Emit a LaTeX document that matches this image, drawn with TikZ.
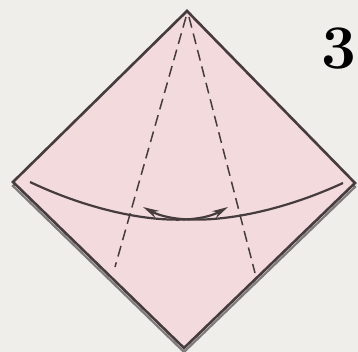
\documentclass[tikz,border=0pt]{standalone}
\usepackage{tikz}
\usetikzlibrary{arrows.meta}

\definecolor{paper}{RGB}{239,238,234}
\definecolor{sheet}{RGB}{243,218,221}
\definecolor{edge}{RGB}{70,60,62}
\definecolor{under}{RGB}{128,122,122}

\tikzset{
  fold/.style={draw=edge, line width=1.5pt, dash pattern=on 11pt off 6pt},
  swing/.style={draw=edge, line width=2.2pt, -{Stealth[length=16pt, width=8pt]}}
}

\begin{document}
\begin{tikzpicture}[x=1pt, y=-1pt]
   % page
   \fill[paper] (0,0) rectangle (358,352);
   \useasboundingbox (0,0) rectangle (358,352);

   \coordinate (top) at (187,11);
   \coordinate (right) at (355,183);
   \coordinate (bottom) at (184,348);
   \coordinate (left) at (13,182);

   % layer underneath, peeking out at the lower edges
   \draw[under, line width=2.2pt, line join=miter] (top) -- ([yshift=-4pt]right) -- ([yshift=-4pt]bottom) -- ([yshift=-4pt]left) -- cycle;

   % the square
   \draw[fill=sheet, draw=edge, line width=2.6pt, line join=miter] (top) -- (right) -- (bottom) -- (left) -- cycle;

   % fold lines
   \draw[fold] (186,17) -- (115,267);
   \draw[fold] (189,17) -- (255,273);

   % both corners swing over
   \draw[swing] (30,182) .. controls (110,220) and (190,228) .. (228,207);
   \draw[swing] (343,183) .. controls (263,220) and (183,228) .. (143,207);

   \node (step) at (339,49) {\fontsize{62}{62}\selectfont\bfseries 3};
\end{tikzpicture}
\end{document}
